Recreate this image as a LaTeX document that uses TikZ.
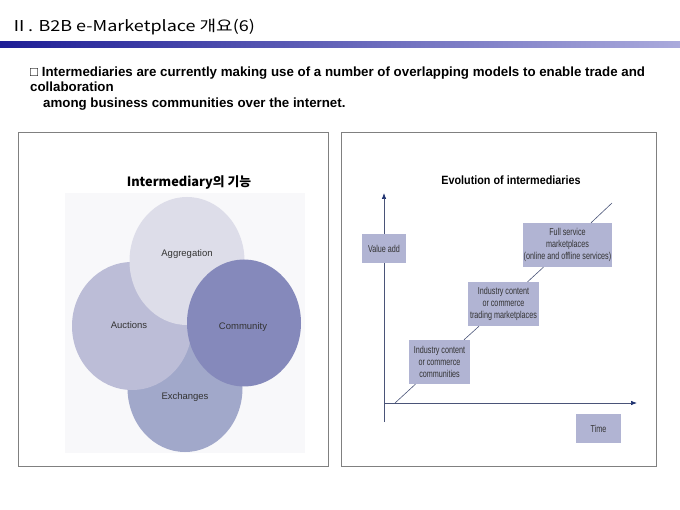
\documentclass[tikz,border=0pt]{standalone}
\usepackage{fontspec}
\setmainfont{Liberation Sans}
\newfontfamily\krfont{Noto Sans CJK KR}
\newfontfamily\krwide[FakeStretch=1.2]{Noto Sans CJK KR}
\newfontfamily\condfont[FakeStretch=0.72]{Liberation Sans}
\newfontfamily\titlefont[FakeStretch=0.9]{Liberation Sans}
\usetikzlibrary{shapes.geometric,arrows.meta}
\definecolor{barleft}{HTML}{1E1E96}
\definecolor{barright}{HTML}{AAAADC}
\definecolor{aggc}{HTML}{DDDDE9}
\definecolor{aucc}{HTML}{BCBDD7}
\definecolor{comc}{HTML}{8589BB}
\definecolor{exc}{HTML}{A1A8CA}
\definecolor{boxc}{HTML}{B1B4D3}
\definecolor{axisc}{HTML}{4A5478}
\definecolor{arrowc}{HTML}{1C2F6E}
\definecolor{panelc}{HTML}{808080}
\definecolor{txtc}{HTML}{333333}
\definecolor{venbg}{HTML}{F8F8FA}
\begin{document}
\begin{tikzpicture}[x=1pt,y=-1pt,
  panel/.style={draw=panelc, line width=0.8pt},
  blob/.style={ellipse, inner sep=0pt, draw=none},
  blobtext/.style={font=\fontsize{9.5}{11}\selectfont, text=txtc},
  vbox/.style={fill=boxc, inner sep=0pt, align=center, text=txtc,
    font=\condfont\fontsize{10}{12}\selectfont},
  axisline/.style={draw=axisc, line width=0.7pt, -{Latex[length=6pt,width=4.5pt,color=arrowc]}},
  diag/.style={draw=axisc, line width=0.6pt},
  bullettext/.style={anchor=base west, inner sep=0pt, font=\bfseries\fontsize{13.3}{15}\selectfont}
]
\useasboundingbox (0,0) rectangle (680,510);
% header
\node[anchor=base west, inner sep=0pt, font=\krwide\fontsize{15}{17}\selectfont] (title) at (10,32) {Ⅱ. B2B e-Marketplace 개요(6)};
\shade[left color=barleft, right color=barright] (0,42) rectangle (680,48);
% intro text
\node[bullettext] (l1) at (30,77) {□ Intermediaries are currently making use of a number of overlapping models to enable trade and};
\node[bullettext] (l2) at (30,92) {collaboration};
\node[bullettext] (l3) at (43,108) {among business communities over the internet.};
% left panel
\draw[panel] (18,132) rectangle (328,466);
\fill[venbg] (65,193) rectangle (305,453);
\node[font=\krfont\bfseries\fontsize{12.8}{14}\selectfont] (lt) at (189,182) {Intermediary의 기능};
\node[blob, fill=exc, minimum width=115pt, minimum height=128pt] (exch) at (185,388) {};
\node[blob, fill=aucc, minimum width=120pt, minimum height=128pt] (auct) at (132,326) {};
\node[blob, fill=aggc, minimum width=115pt, minimum height=128pt] (aggr) at (187,261) {};
\node[blob, fill=comc, minimum width=114pt, minimum height=127pt] (comm) at (244,323) {};
\node[blobtext] (aggrt) at (187,254) {Aggregation};
\node[blobtext] (auctt) at (129,325) {Auctions};
\node[blobtext] (commt) at (243,327) {Community};
\node[blobtext] (excht) at (185,397) {Exchanges};
% right panel
\draw[panel] (341,132) rectangle (656,466);
\node[font=\titlefont\bfseries\fontsize{12}{14}\selectfont] (rt) at (511,180) {Evolution of intermediaries};
\coordinate (ybot) at (384,422);
\coordinate (ytop) at (384,193);
\coordinate (xl) at (384,403);
\coordinate (xr) at (637,403);
\draw[axisline] (ybot) -- (ytop);
\draw[axisline] (xl) -- (xr);
\coordinate (d0) at (395,403);
\coordinate (d1) at (612,203);
\node[vbox, minimum width=89pt, minimum height=44pt] (b3) at (567.5,245) {Full service\\marketplaces\\(online and offline services)};
\node[vbox, minimum width=71pt, minimum height=44pt] (b2) at (503.5,304) {Industry content\\or commerce\\trading marketplaces};
\node[vbox, minimum width=61pt, minimum height=44pt] (b1) at (439.5,362) {Industry content\\or commerce\\communities};
\draw[diag] (d0) -- (b1) -- (b2) -- (b3) -- (d1);
\node[vbox, minimum width=44pt, minimum height=29pt] (va) at (384,248.5) {Value add};
\node[vbox, minimum width=45pt, minimum height=29pt] (time) at (598.5,428.5) {Time};
\end{tikzpicture}
\end{document}
